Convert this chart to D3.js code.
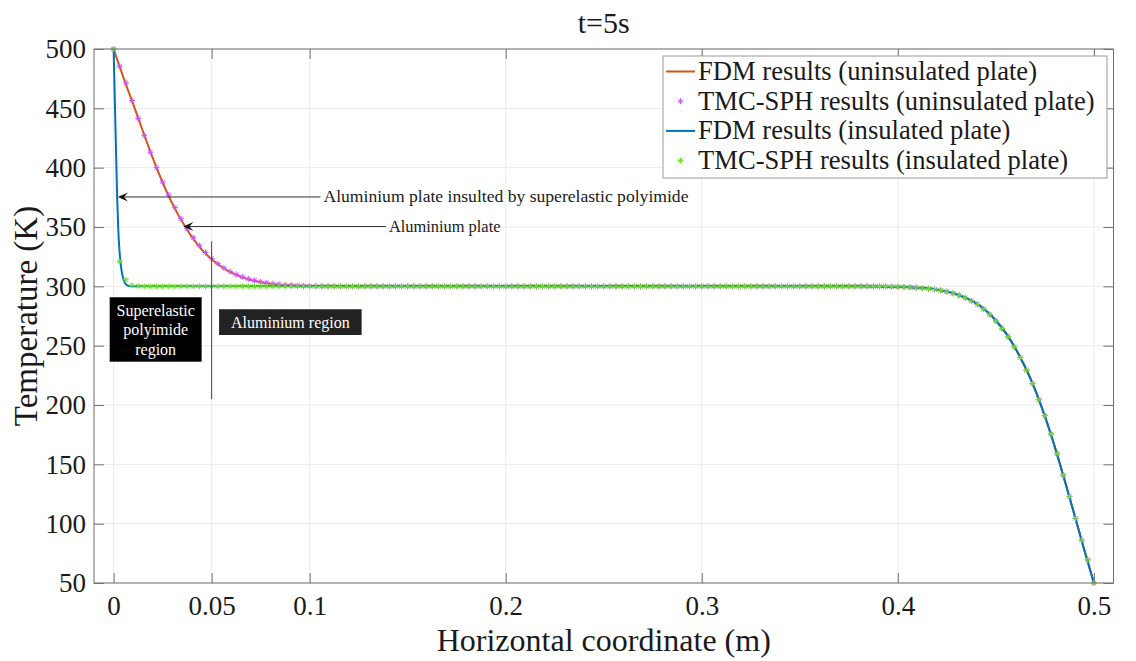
<!DOCTYPE html>
<html><head><meta charset="utf-8">
<script src="https://cdn.jsdelivr.net/npm/d3@7/dist/d3.min.js"></script>
<style>
body{margin:0;background:#fff}
svg{display:block}
text{font-family:"Liberation Serif","Times New Roman",serif;fill:#1a1a1a}
</style>
</head><body>
<svg id="chart" width="1136" height="661"></svg>
<script>
// ---------------- data ----------------
const titleText = "t=5s";
const xLabel = "Horizontal coordinate (m)";
const yLabel = "Temperature (K)";
const xTicks = [0, 0.05, 0.1, 0.2, 0.3, 0.4, 0.5];
const xTickLabels = ["0", "0.05", "0.1", "0.2", "0.3", "0.4", "0.5"];
const yTicks = [50, 100, 150, 200, 250, 300, 350, 400, 450, 500];
const seriesNames = ["FDM results (uninsulated plate)", "TMC-SPH results (uninsulated plate)",
                     "FDM results (insulated plate)", "TMC-SPH results (insulated plate)"];

// FDM, uninsulated plate
const fdmUninsX = [0,0.005,0.01,0.015,0.02,0.025,0.03,0.035,0.04,0.045,0.05,0.055,0.06,0.065,0.07,0.075,0.08,0.085,0.09,0.095,0.1,0.11,0.12,0.2,0.3,0.38,0.39,
  0.4,0.405,0.41,0.415,0.42,0.425,0.43,0.435,0.44,0.445,0.45,0.455,0.46,0.465,0.47,0.475,0.48,0.485,0.49,0.495,0.5];
const fdmUninsT = [500,476,453.5,430.5,408,387.5,369.5,354.5,341.5,331,322.8,316.5,311.5,308,305.4,303.5,302.2,301.4,300.9,300.5,300.3,300.1,300,300,300,300,299.9,
  299.6,299.3,298.9,298.3,297.2,295.6,293.3,290.1,285.6,279.4,271.2,260.8,247.7,231.8,213,190.5,165,137,108,78.5,50];

// FDM, insulated plate
const fdmInsX = [0,0.0006,0.0012,0.0018,0.0024,0.003,0.0036,0.0042,0.0048,0.0054,0.006,0.007,0.008,0.01,0.1,0.2,0.3,0.38,0.39,
  0.4,0.405,0.41,0.415,0.42,0.425,0.43,0.435,0.44,0.445,0.45,0.455,0.46,0.465,0.47,0.475,0.48,0.485,0.49,0.495,0.5];
const fdmInsT = [500,458,417,376,347,330,319,312,307.5,304.3,302.3,300.8,300.2,300,300,300,300,300,299.9,
  299.6,299.3,298.9,298.3,297.2,295.6,293.3,290.1,285.6,279.4,271.2,260.8,247.7,231.8,213,190.5,165,137,108,78.5,50];

// TMC-SPH particle positions (m)
const sphX = [
  0,0.003125,0.00625,0.009375,0.0125,0.015625,0.01875,0.021875,
  0.025,0.028125,0.03125,0.034375,0.0375,0.040625,0.04375,0.046875,
  0.05,0.053125,0.05625,0.059375,0.0625,0.065625,0.06875,0.071875,
  0.075,0.078125,0.08125,0.084375,0.0875,0.090625,0.09375,0.096875,
  0.1,0.103125,0.10625,0.109375,0.1125,0.115625,0.11875,0.121875,
  0.125,0.128125,0.13125,0.134375,0.1375,0.140625,0.14375,0.146875,
  0.15,0.153125,0.15625,0.159375,0.1625,0.165625,0.16875,0.171875,
  0.175,0.178125,0.18125,0.184375,0.1875,0.190625,0.19375,0.196875,
  0.2,0.203125,0.20625,0.209375,0.2125,0.215625,0.21875,0.221875,
  0.225,0.228125,0.23125,0.234375,0.2375,0.240625,0.24375,0.246875,
  0.25,0.253125,0.25625,0.259375,0.2625,0.265625,0.26875,0.271875,
  0.275,0.278125,0.28125,0.284375,0.2875,0.290625,0.29375,0.296875,
  0.3,0.303125,0.30625,0.309375,0.3125,0.315625,0.31875,0.321875,
  0.325,0.328125,0.33125,0.334375,0.3375,0.340625,0.34375,0.346875,
  0.35,0.353125,0.35625,0.359375,0.3625,0.365625,0.36875,0.371875,
  0.375,0.378125,0.38125,0.384375,0.3875,0.390625,0.39375,0.396875,
  0.4,0.403125,0.40625,0.409375,0.4125,0.415625,0.41875,0.421875,
  0.425,0.428125,0.43125,0.434375,0.4375,0.440625,0.44375,0.446875,
  0.45,0.453125,0.45625,0.459375,0.4625,0.465625,0.46875,0.471875,
  0.475,0.478125,0.48125,0.484375,0.4875,0.490625,0.49375,0.496875,
  0.5];

// TMC-SPH, uninsulated plate
const sphUninsT = [
  500,485.5,471.5,456.5,441.5,427,413,400,
  388,377,366.5,357,348.5,341,334.5,328.5,
  323.5,319.2,315.5,312.5,310,308,306.3,305,
  303.8,303,302.3,301.7,301.3,301,300.7,300.5,
  300.3,300.2,300.1,300.1,300,300,300,300,
  300,300,300,300,300,300,300,300,
  300,300,300,300,300,300,300,300,
  300,300,300,300,300,300,300,300,
  300,300,300,300,300,300,300,300,
  300,300,300,300,300,300,300,300,
  300,300,300,300,300,300,300,300,
  300,300,300,300,300,300,300,300,
  300,300,300,300,300,300,300,300,
  300,300,300,300,300,300,300,300,
  300,300,300,300,300,300,300,300,
  300,300,300,300,299.9,299.9,299.8,299.7,
  299.6,299.4,299.2,298.9,298.5,298,297.4,296.6,
  295.5,294.1,292.4,290.3,287.8,284.6,280.8,276.2,
  270.8,264.5,257.5,249,240,229.5,218,204.5,
  191,175.5,159,141,123,104.5,86,69.5,
  50];

// TMC-SPH, insulated plate
const sphInsT = [
  500,321,305.6,300.8,300.2,300,300,300,
  300,300,300,300,300,300,300,300,
  300,300,300,300,300,300,300,300,
  300,300,300,300,300,300,300,300,
  300,300,300,300,300,300,300,300,
  300,300,300,300,300,300,300,300,
  300,300,300,300,300,300,300,300,
  300,300,300,300,300,300,300,300,
  300,300,300,300,300,300,300,300,
  300,300,300,300,300,300,300,300,
  300,300,300,300,300,300,300,300,
  300,300,300,300,300,300,300,300,
  300,300,300,300,300,300,300,300,
  300,300,300,300,300,300,300,300,
  300,300,300,300,300,300,300,300,
  300,300,300,300,299.9,299.9,299.8,299.7,
  299.6,299.4,299.2,298.9,298.5,298,297.4,296.6,
  295.5,294.1,292.4,290.3,287.8,284.6,280.8,276.2,
  270.8,264.5,257.5,249,240,229.5,218,204.5,
  191,175.5,159,141,123,104.5,86,69.5,
  50];

// annotations (data coordinates)
const arrowTexts = ["Aluminium plate insulted by superelastic polyimide", "Aluminium plate"];
const arrowTipX = [0.0022, 0.0356];
const arrowTipT = [375.3, 350.4];
const arrowTailX = [0.1055, 0.1389];
const arrowFont = [17.6, 16.4];
const dividerX = 0.05, dividerT = [338, 205];
const regionLabels = [["Superelastic", "polyimide", "region"], ["Aluminium region"]];
const regionBoxX = [[-0.002, 0.0449], [0.0538, 0.1265]];
const regionBoxT = [[290.8, 236.5], [280.7, 259.0]];

// ---------------- drawing ----------------
const colors = ["#D95319", "#CC55FF", "#0072BD", "#6FDD2E"];
const P = {l: 94, r: 1113.5, t: 49, b: 583};
const svg = d3.select("#chart");
const x = d3.scaleLinear().domain([-0.01, 0.51]).range([P.l, P.r]);
const y = d3.scaleLinear().domain([50, 500]).range([P.b, P.t]);
const serif = '"Liberation Serif","Times New Roman",serif';

svg.append("rect").attr("width", 1136).attr("height", 661).attr("fill", "#fff");
svg.append("defs").append("clipPath").attr("id", "clip")
  .append("rect").attr("x", P.l).attr("y", P.t).attr("width", P.r - P.l).attr("height", P.b - P.t);

// grid
const grid = svg.append("g").attr("stroke", "#ebebeb").attr("stroke-width", 1);
grid.selectAll("line.gx").data(xTicks).join("line").attr("class", "gx")
  .attr("x1", d => x(d)).attr("x2", d => x(d)).attr("y1", P.t).attr("y2", P.b);
grid.selectAll("line.gy").data(yTicks).join("line").attr("class", "gy")
  .attr("y1", d => y(d)).attr("y2", d => y(d)).attr("x1", P.l).attr("x2", P.r);

// axes
const tickLen = 10;
const axB = svg.append("g").attr("transform", `translate(0,${P.b})`)
  .call(d3.axisBottom(x).tickValues(xTicks).tickFormat((d, i) => xTickLabels[i]).tickSize(-tickLen).tickPadding(13));
const axT = svg.append("g").attr("transform", `translate(0,${P.t})`)
  .call(d3.axisTop(x).tickValues(xTicks).tickFormat("").tickSize(-tickLen));
const axL = svg.append("g").attr("transform", `translate(${P.l},0)`)
  .call(d3.axisLeft(y).tickValues(yTicks).tickSize(-tickLen).tickPadding(8));
const axR = svg.append("g").attr("transform", `translate(${P.r},0)`)
  .call(d3.axisRight(y).tickValues(yTicks).tickFormat("").tickSize(-tickLen));
[axB, axT, axL, axR].forEach(g => {
  g.attr("font-family", serif);
  g.select(".domain").remove();
  g.selectAll(".tick line").attr("stroke", "#707070").attr("stroke-width", 1);
  g.selectAll(".tick text").attr("fill", "#1a1a1a").style("font-size", "27px").style("font-family", serif);
});
axL.selectAll(".tick text").attr("dy", "0.33em");

// series
const lineGen = d3.line().x(d => x(d[0])).y(d => y(d[1])).curve(d3.curveMonotoneX);
const starPath = "M-3,0H3M0,-3V3M-2.1,-2.1L2.1,2.1M-2.1,2.1L2.1,-2.1";
const plot = svg.append("g");
function drawLine(xs, ts, c) {
  plot.append("path").datum(xs.map((v, i) => [v, ts[i]]))
    .attr("clip-path", "url(#clip)").attr("fill", "none").attr("stroke", c)
    .attr("stroke-width", 2).attr("stroke-linejoin", "round").attr("d", lineGen);
}
function drawStars(xs, ts, c) {
  plot.append("g").selectAll("path").data(xs.map((v, i) => [v, ts[i]])).join("path")
    .attr("transform", d => `translate(${x(d[0])},${y(d[1])})`)
    .attr("d", starPath).attr("fill", "none").attr("stroke", c).attr("stroke-width", 1);
}
drawLine(fdmUninsX, fdmUninsT, colors[0]);
drawStars(sphX, sphUninsT, colors[1]);
drawLine(fdmInsX, fdmInsT, colors[2]);
drawStars(sphX, sphInsT, colors[3]);

// box
svg.append("rect").attr("x", P.l).attr("y", P.t).attr("width", P.r - P.l).attr("height", P.b - P.t)
  .attr("fill", "none").attr("stroke", "#707070").attr("stroke-width", 1);

// annotations
const ann = svg.append("g");
arrowTexts.forEach((t, i) => {
  const tx = x(arrowTipX[i]), ty = y(arrowTipT[i]), ex = x(arrowTailX[i]);
  ann.append("line").attr("x1", ex).attr("x2", tx + 6).attr("y1", ty).attr("y2", ty)
    .attr("stroke", "#333").attr("stroke-width", 1);
  ann.append("path").attr("d", `M${tx},${ty}L${tx + 10},${ty - 4.5}L${tx + 6},${ty}L${tx + 10},${ty + 4.5}Z`)
    .attr("fill", "#111");
  ann.append("text").attr("x", ex + 3).attr("y", ty + 5.5).style("font-size", arrowFont[i] + "px").text(t);
});
ann.append("line").attr("x1", x(dividerX)).attr("x2", x(dividerX))
  .attr("y1", y(dividerT[0])).attr("y2", y(dividerT[1])).attr("stroke", "#444").attr("stroke-width", 1);
const boxFill = ["#000", "#222"];
regionLabels.forEach((lines, i) => {
  const x0 = x(regionBoxX[i][0]), x1 = x(regionBoxX[i][1]);
  const y0 = y(regionBoxT[i][0]), y1 = y(regionBoxT[i][1]);
  ann.append("rect").attr("x", x0).attr("y", y0).attr("width", x1 - x0).attr("height", y1 - y0).attr("fill", boxFill[i]);
  lines.forEach((l, k) => {
    ann.append("text").attr("x", (x0 + x1) / 2).attr("y", y0 + 18.7 + k * 19.5)
      .attr("text-anchor", "middle").style("font-size", "16px").style("fill", "#fff").text(l);
  });
});

// legend
const lg = svg.append("g");
const L = {x: 663, y: 56, w: 444, h: 122};
lg.append("rect").attr("x", L.x).attr("y", L.y).attr("width", L.w).attr("height", L.h)
  .attr("fill", "#fff").attr("stroke", "#999").attr("stroke-width", 1);
seriesNames.forEach((n, i) => {
  const cy = L.y + 15.5 + i * 29.7;
  if (i % 2 === 0) {
    lg.append("line").attr("x1", L.x + 3).attr("x2", L.x + 32).attr("y1", cy).attr("y2", cy)
      .attr("stroke", colors[i]).attr("stroke-width", 2);
  } else {
    lg.append("path").attr("transform", `translate(${L.x + 17.5},${cy})`).attr("d", starPath)
      .attr("fill", "none").attr("stroke", colors[i]).attr("stroke-width", 1);
  }
  lg.append("text").attr("x", L.x + 35).attr("y", cy + 8.5).style("font-size", "26.6px").text(n);
});

// titles
svg.append("text").attr("x", (P.l + P.r) / 2).attr("y", 33).attr("text-anchor", "middle")
  .style("font-size", "30px").text(titleText);
svg.append("text").attr("x", (P.l + P.r) / 2).attr("y", 651).attr("text-anchor", "middle")
  .style("font-size", "32px").text(xLabel);
svg.append("text").attr("transform", `translate(37,${(P.t + P.b) / 2}) rotate(-90)`)
  .attr("text-anchor", "middle").style("font-size", "33px").text(yLabel);
</script>
</body></html>
